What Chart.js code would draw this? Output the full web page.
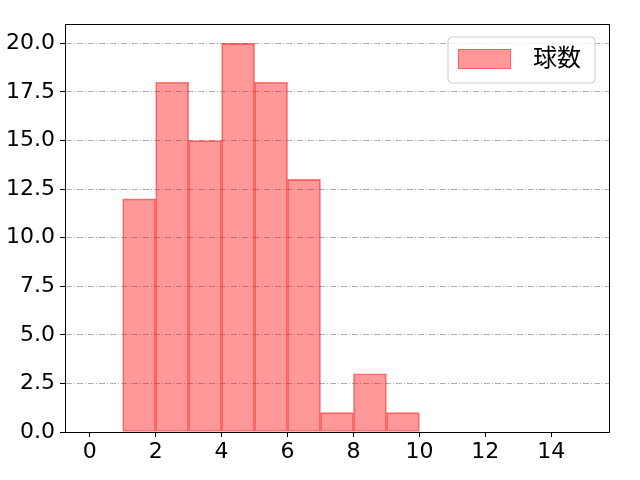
<!DOCTYPE html>
<html><head><meta charset="utf-8">
<script src="https://cdn.jsdelivr.net/npm/chart.js@4/dist/chart.umd.min.js"></script>
<style>html,body{margin:0;padding:0;background:#fff}#wrap{width:640px;height:480px}</style>
</head><body><div id="wrap"><canvas id="c" width="640" height="480"></canvas></div>
<script>
const binStarts = [0,1,2,3,4,5,6,7,8,9,10,11,12,13,14];
const counts    = [0,12,18,15,20,18,13,1,3,1,0,0,0,0,0];
const xTicks = [0,2,4,6,8,10,12,14];
const yTicks = [0,2.5,5,7.5,10,12.5,15,17.5,20];
const seriesLabel = '球数';

const FONT = '"DejaVu Sans","Noto Sans CJK JP",sans-serif';

const frame = {
  id:'frame',
  afterDraw(chart){
    const {ctx, chartArea:a} = chart;
    ctx.save();
    ctx.setLineDash([]);
    ctx.strokeStyle='#000'; ctx.lineWidth=1;
    ctx.strokeRect(Math.round(a.left)+0.5, Math.round(a.top)+0.5, Math.round(a.right-a.left), Math.round(a.bottom-a.top));
    // legend
    const bx=448, by=37, bw=147, bh=46, r=4;
    ctx.fillStyle='rgba(255,255,255,0.8)';
    ctx.strokeStyle='#cccccc';
    ctx.beginPath();
    ctx.moveTo(bx+r,by); ctx.lineTo(bx+bw-r,by); ctx.arcTo(bx+bw,by,bx+bw,by+r,r);
    ctx.lineTo(bx+bw,by+bh-r); ctx.arcTo(bx+bw,by+bh,bx+bw-r,by+bh,r);
    ctx.lineTo(bx+r,by+bh); ctx.arcTo(bx,by+bh,bx,by+bh-r,r);
    ctx.lineTo(bx,by+r); ctx.arcTo(bx,by,bx+r,by,r); ctx.closePath();
    ctx.fill(); ctx.stroke();
    ctx.fillStyle='rgba(255,0,0,0.4)';
    ctx.fillRect(458,49,53,20);
    ctx.strokeStyle='rgba(255,0,0,0.4)';
    ctx.strokeRect(458.5,49.5,52,19);
    ctx.fillStyle='#000';
    ctx.font='24px '+FONT;
    ctx.textBaseline='middle'; ctx.textAlign='left';
    ctx.fillText(seriesLabel, 533, 60);
    ctx.restore();
  }
};

new Chart(document.getElementById('c'), {
  type:'bar',
  data:{
    datasets:[{
      label:seriesLabel,
      data: binStarts.map((b,i)=>({x:b+0.5, y:counts[i]})),
      backgroundColor:'rgba(255,0,0,0.4)',
      borderColor:'rgba(255,0,0,0.5)',
      borderWidth:1,
      barPercentage:1, categoryPercentage:1,
      borderSkipped:false
    }]
  },
  options:{
    responsive:false, animation:false,
    layout:{padding:{top:24,right:31,left:0,bottom:0}},
    plugins:{legend:{display:false}, tooltip:{enabled:false}},
    scales:{
      x:{
        type:'linear', min:-0.75, max:15.75, offset:false,
        afterBuildTicks(s){ s.ticks = xTicks.map(v=>({value:v})); },
        afterFit(s){ s.height=48; },
        grid:{display:true, offset:false, drawOnChartArea:false, tickLength:5, tickColor:'#000'},
        border:{display:true, color:'#000'},
        ticks:{color:'#000', font:{family:FONT, size:22}, padding:2, maxRotation:0, autoSkip:false}
      },
      y:{
        min:0, max:21, z:1,
        afterBuildTicks(s){ s.ticks = yTicks.map(v=>({value:v})); },
        afterFit(s){ s.width=65; },
        grid:{display:true, drawOnChartArea:true, color:'#b0b0b0', lineWidth:1,
              tickLength:5, tickColor:'#000', tickBorderDash:[]},
        border:{display:true, color:'#000', dash:[6,2,1,2]},
        ticks:{color:'#000', font:{family:FONT, size:22}, padding:5, autoSkip:false,
               callback:v=>v.toFixed(1)}
      }
    }
  },
  plugins:[frame]
});
</script></body></html>
